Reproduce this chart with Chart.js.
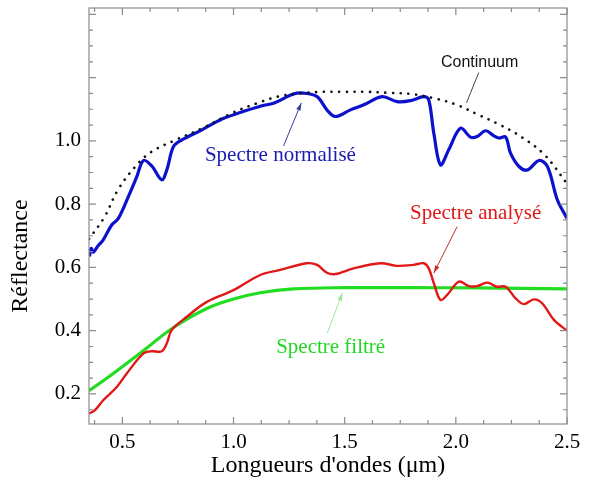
<!DOCTYPE html>
<html>
<head>
<meta charset="utf-8">
<script src="https://cdn.jsdelivr.net/npm/chart.js@4"></script>
<style>
  html, body { margin: 0; padding: 0; background: #fff; }
  #wrap { width: 590px; height: 484px; }
</style>
</head>
<body>
<div id="wrap"><canvas id="chart" width="590" height="484"></canvas></div>
<script>
// données
const xTicks = [0.5, 1.0, 1.5, 2.0, 2.5];
const yTicks = [0.2, 0.4, 0.6, 0.8, 1.0];

const normX = [0.352, 0.36, 0.37, 0.39, 0.414, 0.452, 0.482, 0.527, 0.565, 0.595, 0.632, 0.677, 0.70, 0.73, 0.768, 0.858, 0.948, 1.023, 1.128, 1.18, 1.27, 1.315, 1.376, 1.42, 1.458, 1.526, 1.586, 1.668, 1.736, 1.796, 1.856, 1.878, 1.901, 1.931, 1.968, 2.021, 2.066, 2.096, 2.134, 2.171, 2.194, 2.224, 2.246, 2.284, 2.322, 2.374, 2.412, 2.457, 2.50];
const normY = [0.635, 0.66, 0.648, 0.668, 0.687, 0.734, 0.755, 0.824, 0.887, 0.938, 0.921, 0.877, 0.908, 0.982, 1.003, 1.035, 1.069, 1.088, 1.111, 1.119, 1.148, 1.151, 1.14, 1.098, 1.077, 1.098, 1.114, 1.14, 1.124, 1.127, 1.14, 1.13, 1.024, 0.924, 0.972, 1.04, 1.012, 1.014, 1.032, 1.016, 1.009, 1.012, 0.961, 0.919, 0.908, 0.938, 0.919, 0.813, 0.755];

const contX = [0.35, 0.42, 0.48, 0.56, 0.63, 0.74, 0.86, 1.0, 1.11, 1.2, 1.3, 1.4, 1.5, 1.6, 1.7, 1.8, 1.9, 2.0, 2.1, 2.2, 2.3, 2.4, 2.5];
const contY = [0.69, 0.76, 0.845, 0.92, 0.965, 1.003, 1.04, 1.09, 1.12, 1.14, 1.15, 1.155, 1.155, 1.155, 1.152, 1.148, 1.135, 1.115, 1.083, 1.05, 1.01, 0.955, 0.865];

const anaX = [0.351, 0.377, 0.414, 0.475, 0.52, 0.595, 0.632, 0.677, 0.70, 0.722, 0.79, 0.88, 1.0, 1.12, 1.21, 1.33, 1.376, 1.42, 1.458, 1.54, 1.66, 1.736, 1.81, 1.856, 1.878, 1.901, 1.931, 1.961, 2.014, 2.059, 2.096, 2.141, 2.186, 2.224, 2.269, 2.306, 2.351, 2.389, 2.441, 2.50];
const anaY = [0.138, 0.149, 0.18, 0.222, 0.265, 0.328, 0.335, 0.335, 0.36, 0.402, 0.444, 0.491, 0.528, 0.576, 0.592, 0.613, 0.608, 0.583, 0.579, 0.597, 0.613, 0.605, 0.608, 0.613, 0.597, 0.55, 0.497, 0.513, 0.555, 0.541, 0.541, 0.552, 0.539, 0.539, 0.502, 0.484, 0.499, 0.486, 0.434, 0.40];

const filtX = [0.35, 0.45, 0.6, 0.73, 0.88, 1.0, 1.12, 1.27, 1.5, 1.8, 2.1, 2.5];
const filtY = [0.21, 0.26, 0.34, 0.41, 0.47, 0.50, 0.52, 0.532, 0.536, 0.536, 0.535, 0.532];

const toPts = (xs, ys) => xs.map((v, i) => ({ x: v, y: ys[i] }));

const SERIF = '"Liberation Serif", "DejaVu Serif", serif';
const SANS = '"Liberation Sans", Arial, sans-serif';

// cadre, graduations intérieures, annotations
const decor = {
    id: 'decor',
    afterDraw(chart) {
        const { ctx, chartArea: a, scales: { x, y } } = chart;
        ctx.save();
        ctx.strokeStyle = '#8c8c8c';
        ctx.lineWidth = 1.2;
        ctx.strokeRect(a.left, a.top, a.right - a.left, a.bottom - a.top);

        ctx.beginPath();
        for (let k = 3; k <= 20; k++) {
            const v = k * 0.125;
            const len = k % 4 === 0 ? 7 : 4;
            const px = x.getPixelForValue(v);
            ctx.moveTo(px, a.bottom); ctx.lineTo(px, a.bottom - len);
            ctx.moveTo(px, a.top); ctx.lineTo(px, a.top + len);
        }
        for (let k = 3; k <= 28; k++) {
            const v = k * 0.05;
            const len = k % 4 === 0 ? 7 : 4;
            const py = y.getPixelForValue(v);
            ctx.moveTo(a.left, py); ctx.lineTo(a.left + len, py);
            ctx.moveTo(a.right, py); ctx.lineTo(a.right - len, py);
        }
        ctx.stroke();

        const P = (vx, vy) => [x.getPixelForValue(vx), y.getPixelForValue(vy)];
        const arrow = (x0, y0, x1, y1, color, head) => {
            const [ax, ay] = P(x0, y0);
            const [bx, by] = P(x1, y1);
            ctx.strokeStyle = color;
            ctx.fillStyle = color;
            ctx.lineWidth = 1;
            ctx.beginPath(); ctx.moveTo(ax, ay); ctx.lineTo(bx, by); ctx.stroke();
            if (head) {
                const ang = Math.atan2(by - ay, bx - ax);
                ctx.beginPath();
                ctx.moveTo(bx, by);
                ctx.lineTo(bx - 8 * Math.cos(ang - 0.3), by - 8 * Math.sin(ang - 0.3));
                ctx.lineTo(bx - 8 * Math.cos(ang + 0.3), by - 8 * Math.sin(ang + 0.3));
                ctx.closePath(); ctx.fill();
            }
        };
        const label = (txt, vx, vy, color, font) => {
            const [px, py] = P(vx, vy);
            ctx.fillStyle = color;
            ctx.font = font;
            ctx.textAlign = 'center';
            ctx.textBaseline = 'alphabetic';
            ctx.fillText(txt, px, py);
        };

        label('Continuum', 2.107, 1.234, '#111', '16px ' + SANS);
        arrow(2.103, 1.216, 2.048, 1.12, '#444', false);

        label('Spectre normalisé', 1.211, 0.937, '#1a1ab4', '21px ' + SERIF);
        arrow(1.225, 0.984, 1.305, 1.12, '#3a3aa0', true);

        label('Spectre analysé', 2.089, 0.753, '#e01818', '21px ' + SERIF);
        arrow(2.006, 0.729, 1.901, 0.582, '#c03030', true);

        label('Spectre filtré', 1.437, 0.33, '#22d822', '21px ' + SERIF);
        arrow(1.422, 0.393, 1.49, 0.519, '#9ee89e', true);

        // titre de l'axe vertical
        ctx.save();
        ctx.translate(a.left - 62, y.getPixelForValue(0.636));
        ctx.rotate(-Math.PI / 2);
        ctx.fillStyle = '#000';
        ctx.font = '24px ' + SERIF;
        ctx.textAlign = 'center';
        ctx.textBaseline = 'alphabetic';
        ctx.fillText('Réflectance', 0, 0);
        ctx.restore();

        ctx.restore();
    }
};

new Chart(document.getElementById('chart'), {
    type: 'line',
    data: {
        datasets: [
            {
                label: 'Continuum',
                data: toPts(contX, contY),
                borderColor: '#111',
                borderWidth: 2.6,
                borderDash: [0.1, 7.6],
                borderCapStyle: 'round',
                pointRadius: 0,
                tension: 0.4,
                fill: false
            },
            {
                label: 'Spectre normalisé',
                data: toPts(normX, normY),
                borderColor: '#0c12cc',
                borderWidth: 3.2,
                pointRadius: 0,
                tension: 0.35,
                fill: false
            },
            {
                label: 'Spectre analysé',
                data: toPts(anaX, anaY),
                borderColor: '#e01818',
                borderWidth: 2.4,
                pointRadius: 0,
                tension: 0.35,
                fill: false
            },
            {
                label: 'Spectre filtré',
                data: toPts(filtX, filtY),
                borderColor: '#22dc22',
                borderWidth: 3.2,
                pointRadius: 0,
                tension: 0.4,
                fill: false
            }
        ]
    },
    options: {
        responsive: false,
        animation: false,
        layout: { padding: { top: 8, right: 23, left: 0, bottom: 0 } },
        plugins: { legend: { display: false }, tooltip: { enabled: false } },
        scales: {
            x: {
                type: 'linear',
                min: 0.35,
                max: 2.5,
                afterBuildTicks: (s) => { s.ticks = xTicks.map(v => ({ value: v })); },
                afterFit: (s) => { s.height = 60; s.paddingLeft = 0; s.paddingRight = 0; },
                grid: { display: false, drawTicks: false },
                border: { display: false },
                ticks: {
                    padding: 6,
                    color: '#000',
                    font: { family: SERIF, size: 21 },
                    callback: (v) => v.toFixed(1)
                },
                title: {
                    display: true,
                    text: "Longueurs d'ondes (μm)",
                    color: '#000',
                    font: { family: SERIF, size: 24 },
                    padding: { top: 0, bottom: 4 }
                }
            },
            y: {
                type: 'linear',
                min: 0.105,
                max: 1.42,
                afterBuildTicks: (s) => { s.ticks = yTicks.map(v => ({ value: v })); },
                afterFit: (s) => { s.width = 89; s.paddingTop = 0; s.paddingBottom = 0; },
                grid: { display: false, drawTicks: false },
                border: { display: false },
                ticks: {
                    padding: 8,
                    color: '#000',
                    font: { family: SERIF, size: 21 },
                    callback: (v) => v.toFixed(1)
                }
            }
        }
    },
    plugins: [decor]
});
</script>
</body>
</html>
